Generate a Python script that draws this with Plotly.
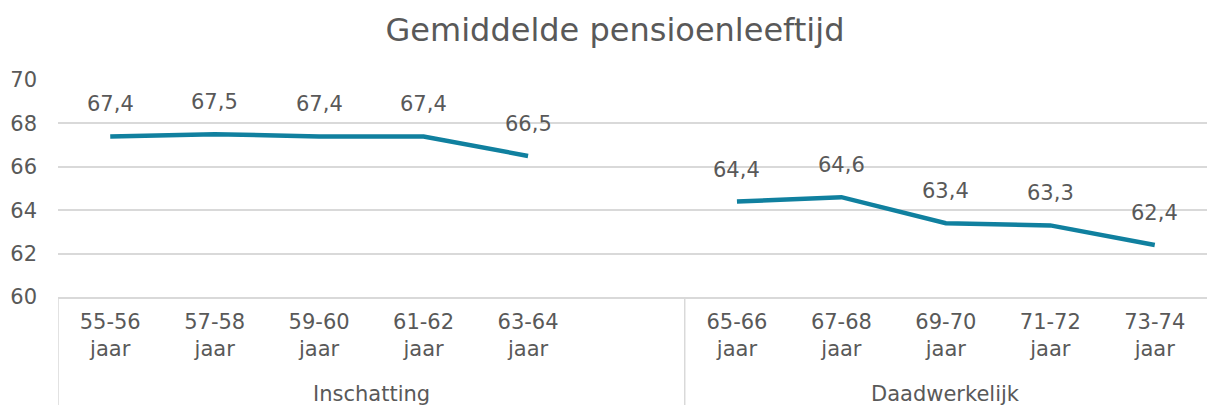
import plotly.graph_objects as go

categories = ["55-56 jaar", "57-58 jaar", "59-60 jaar", "61-62 jaar", "63-64 jaar",
              "65-66 jaar", "67-68 jaar", "69-70 jaar", "71-72 jaar", "73-74 jaar"]
groups = ["Inschatting", "Daadwerkelijk"]
inschatting = [67.4, 67.5, 67.4, 67.4, 66.5]
daadwerkelijk = [64.4, 64.6, 63.4, 63.3, 62.4]
y_ticks = [60, 62, 64, 66, 68, 70]

# slot positions: 5 categories, one empty slot, 5 categories
x_ins = list(range(0, 5))
x_daad = list(range(6, 11))

COLOR = "#10809F"
TEXT = "#595959"
GRID = "#D9D9D9"
FONT = "DejaVu Sans"
FS = 21

fig = go.Figure()
fig.add_trace(go.Scatter(x=x_ins, y=inschatting, mode="lines",
                         line=dict(color=COLOR, width=4.5), showlegend=False, hoverinfo="skip"))
fig.add_trace(go.Scatter(x=x_daad, y=daadwerkelijk, mode="lines",
                         line=dict(color=COLOR, width=4.5), showlegend=False, hoverinfo="skip"))

def fmt(v):
    return f"{v:.1f}".replace(".", ",")

for xs, ys in ((x_ins, inschatting), (x_daad, daadwerkelijk)):
    for x, y in zip(xs, ys):
        fig.add_annotation(x=x, y=y, text=fmt(y), showarrow=False, yshift=32,
                           font=dict(family=FONT, size=FS, color=TEXT))

tickvals = x_ins + x_daad
ticktext = [c.replace(" ", "<br>") for c in categories]

# group labels and dividers
fig.add_annotation(x=(-0.5 + 5.5) / 2, xref="x", y=-0.445, yref="paper", yanchor="middle",
                   text=groups[0], showarrow=False, font=dict(family=FONT, size=FS, color=TEXT))
fig.add_annotation(x=(5.5 + 10.5) / 2, xref="x", y=-0.445, yref="paper", yanchor="middle",
                   text=groups[1], showarrow=False, font=dict(family=FONT, size=FS, color=TEXT))
for xv in (-0.5, 5.5):
    fig.add_shape(type="line", xref="x", yref="paper", x0=xv, x1=xv, y0=0, y1=-0.6,
                  line=dict(color=GRID, width=1.5))

fig.update_layout(
    width=1207, height=405,
    margin=dict(l=58, r=0, t=80, b=108),
    paper_bgcolor="white", plot_bgcolor="white",
    font=dict(family=FONT, size=FS, color=TEXT),
    title=dict(text="Gemiddelde pensioenleeftijd", x=615 / 1207, xref="container",
               xanchor="center", y=1 - 30 / 405, yanchor="middle",
               font=dict(family=FONT, size=32, color=TEXT)),
    xaxis=dict(range=[-0.5, 10.5], tickvals=tickvals, ticktext=ticktext,
               showgrid=False, zeroline=False, showline=True, linecolor=GRID, linewidth=1.5,
               ticks="", ticklabelstandoff=5,
               tickfont=dict(family=FONT, size=FS, color=TEXT), fixedrange=True),
    yaxis=dict(range=[60, 70], tickvals=y_ticks, showgrid=True, gridcolor=GRID, gridwidth=1.5,
               zeroline=False, showline=False, ticks="", ticklabelstandoff=20,
               tickfont=dict(family=FONT, size=FS, color=TEXT)),
)

fig.write_html("out.html", config={"displayModeBar": False},
               post_script="document.body.style.margin='0';document.body.style.overflow='hidden';")
